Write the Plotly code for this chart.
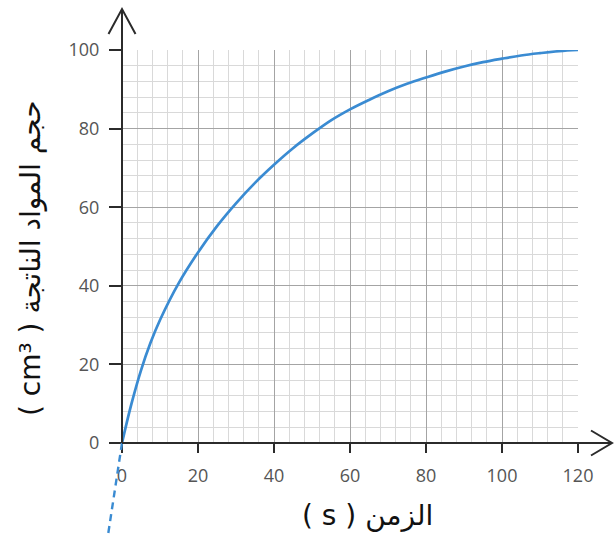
import plotly.graph_objects as go

# ---- data ----
time_s = [0, 2.5, 5, 7.5, 10, 15, 20, 25, 30, 35, 40, 45, 50, 55, 60,
          65, 70, 75, 80, 85, 90, 95, 100, 105, 110, 115, 120]
volume_cm3 = [0, 10, 18.5, 25.5, 31.3, 40.8, 48.5, 55.2, 61, 66.2, 70.8, 75, 78.7, 82.1, 84.9,
              87.3, 89.5, 91.4, 93, 94.5, 95.8, 96.9, 97.8, 98.6, 99.2, 99.7, 100]
extension_t = [0, -4.4]          # dashed extrapolation below the origin
extension_v = [0, -28]
x_ticks = [0, 20, 40, 60, 80, 100, 120]
y_ticks = [0, 20, 40, 60, 80, 100]
x_title = "( s ) الزمن"
y_title = "( cm³ ) حجم المواد الناتجة"

# ---- geometry (pixels) ----
W, H = 616, 537
X0, X1 = 122, 578      # px of t=0 and t=120
Y0, Y1 = 443, 50       # px of v=0 and v=100
sx = (X1 - X0) / 120.0
sy = (Y0 - Y1) / 100.0

# full-figure overlay axes with the same scale (for marks outside the grid box)
x2_range = [(0 - X0) / sx, (W - X0) / sx]
y2_range = [(Y0 - H) / sy, (Y0 - 0) / sy]

BLUE = "#3a8bd2"
AX = "#2b2b2b"
MAJOR = "#a4a4a4"
MINOR = "#d9d9d9"

fig = go.Figure()

fig.add_trace(go.Scatter(x=time_s, y=volume_cm3, mode="lines", xaxis="x", yaxis="y",
                         line=dict(color=BLUE, width=2.7, shape="spline", smoothing=1.1),
                         cliponaxis=False, hoverinfo="skip", showlegend=False))
fig.add_trace(go.Scatter(x=extension_t, y=extension_v, mode="lines", xaxis="x2", yaxis="y2",
                         line=dict(color=BLUE, width=2.4, dash="7px,5px"),
                         hoverinfo="skip", showlegend=False))

# axis lines with open arrowheads (in x2/y2 coordinates)
y_tip = (Y0 - 9) / sy
x_tip = (612 - X0) / sx
shapes = [
    dict(type="line", xref="x2", yref="y2", x0=0, y0=0, x1=0, y1=y_tip,
         line=dict(color=AX, width=2)),
    dict(type="line", xref="x2", yref="y2", x0=0, y0=0, x1=x_tip, y1=0,
         line=dict(color=AX, width=2)),
    dict(type="path", xref="x2", yref="y2",
         path=f"M {-13.5/sx} {y_tip - 25/sy} L 0 {y_tip} L {13.5/sx} {y_tip - 25/sy}",
         line=dict(color=AX, width=2)),
    dict(type="path", xref="x2", yref="y2",
         path=f"M {x_tip - 21/sx} {12.5/sy} L {x_tip} 0 L {x_tip - 21/sx} {-12.5/sy}",
         line=dict(color=AX, width=2)),
]

tickfont = dict(family="Open Sans, sans-serif", size=18, color="#555555")

fig.update_layout(
    width=W, height=H,
    autosize=False,
    margin=dict(l=0, r=0, t=0, b=0, pad=0),
    paper_bgcolor="white",
    plot_bgcolor="rgba(0,0,0,0)",
    showlegend=False,
    shapes=shapes,
    xaxis=dict(domain=[X0 / W, X1 / W], range=[0, 120], anchor="y",
               tickvals=x_ticks, ticktext=[str(v) for v in x_ticks],
               showgrid=True, gridcolor=MAJOR, gridwidth=1,
               minor=dict(dtick=4, tick0=0, showgrid=True, gridcolor=MINOR, gridwidth=1),
               ticks="outside", ticklen=9, tickwidth=2, tickcolor=AX,
               showline=False, zeroline=False, tickfont=tickfont, automargin=False,
               ticklabelstandoff=7, fixedrange=True),
    yaxis=dict(domain=[(H - Y0) / H, (H - Y1) / H], range=[0, 100], anchor="x",
               tickvals=y_ticks, ticktext=[str(v) for v in y_ticks],
               showgrid=True, gridcolor=MAJOR, gridwidth=1,
               minor=dict(dtick=4, tick0=0, showgrid=True, gridcolor=MINOR, gridwidth=1),
               ticks="outside", ticklen=12, tickwidth=2, tickcolor=AX,
               showline=False, zeroline=False, tickfont=tickfont, automargin=False,
               ticklabelstandoff=6, fixedrange=True),
    xaxis2=dict(domain=[0, 1], range=x2_range, anchor="y2", visible=False,
                automargin=False, fixedrange=True),
    yaxis2=dict(domain=[0, 1], range=y2_range, anchor="x2", visible=False,
                automargin=False, fixedrange=True),
    annotations=[
        dict(text=x_title, xref="paper", yref="paper", x=367 / W, y=(H - 515) / H,
             xanchor="center", yanchor="middle", showarrow=False,
             font=dict(family="DejaVu Sans, sans-serif", size=28, color="#111111")),
        dict(text=y_title, xref="paper", yref="paper", x=30 / W, y=(H - 258) / H,
             xanchor="center", yanchor="middle", textangle=-90, showarrow=False,
             font=dict(family="DejaVu Sans, sans-serif", size=28, color="#111111")),
    ],
)

fig.write_html("out.html", config={"responsive": False, "displayModeBar": False},
               post_script="document.body.style.margin='0';document.body.style.overflow='hidden';")
